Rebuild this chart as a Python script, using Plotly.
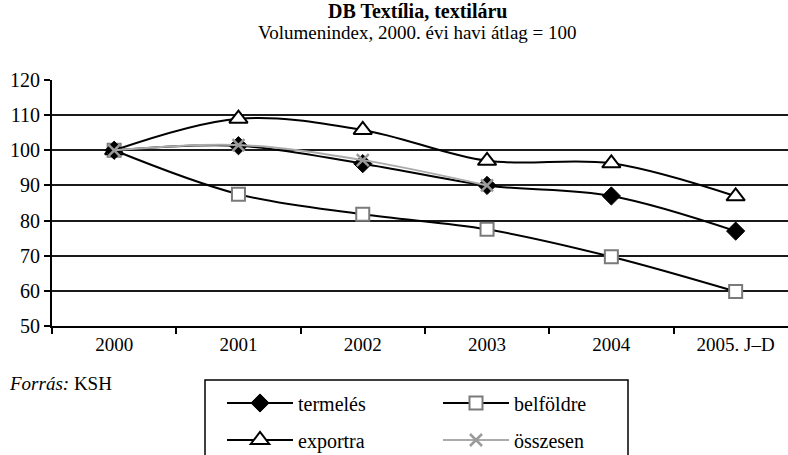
import plotly.graph_objects as go

categories = ["2000", "2001", "2002", "2003", "2004", "2005. J–D"]
termeles = [100, 101.3, 96.2, 90, 87, 77]
belfoldre = [100, 87.5, 81.8, 77.5, 69.7, 59.8]
exportra = [100, 109, 105.8, 97, 96.3, 86.9]
osszesen = [100, 101.5, 97.2, 90]
y_ticks = [50, 60, 70, 80, 90, 100, 110, 120]

W, H = 788, 455
PL, PT, PR, PB = 52, 80, 788, 326   # plot area in screen pixels
L, T, R, B = PL, PT, W - PR, H - PB
pw = PR - PL
ph = PB - PT

def px_x(p):
    return (p - PL) / pw

def px_y(p):
    return (PB - p) / ph

def cx(p):
    return p / W

def cy(p):
    return (H - p) / H

FONT = "Liberation Serif, Times New Roman, Tinos, serif"

fig = go.Figure()

fig.add_trace(go.Scatter(
    x=categories, y=belfoldre, name="belföldre", mode="lines+markers",
    line=dict(color="black", width=2, shape="spline"),
    marker=dict(symbol="square", size=13, color="white", line=dict(color="#7a7a7a", width=2)),
    legend="legend", legendrank=2))
fig.add_trace(go.Scatter(
    x=categories, y=exportra, name="exportra", mode="lines+markers",
    line=dict(color="black", width=2, shape="spline"),
    marker=dict(symbol="triangle-up", size=16, color="white", line=dict(color="black", width=2)),
    legend="legend2", legendrank=1))
fig.add_trace(go.Scatter(
    x=categories, y=termeles, name="termelés", mode="lines+markers",
    line=dict(color="black", width=2, shape="spline"),
    marker=dict(symbol="diamond", size=14, color="black", line=dict(color="black", width=1)),
    legend="legend", legendrank=1))
fig.add_trace(go.Scatter(
    x=categories[:len(osszesen)], y=osszesen, name="összesen", mode="lines+markers",
    line=dict(color="#ababab", width=2, shape="spline"),
    marker=dict(symbol="x-thin", size=12, color="#9a9a9a", line=dict(color="#9a9a9a", width=2.5)),
    legend="legend2", legendrank=2))

legend_common = dict(
    orientation="h", xanchor="left", yanchor="middle",
    xref="container", yref="container",
    font=dict(family=FONT, size=20, color="black"),
    bgcolor="rgba(0,0,0,0)", borderwidth=0,
    entrywidth=135, itemwidth=66, tracegroupgap=0,
)

fig.update_layout(
    width=W, height=H,
    margin=dict(l=L, r=R, t=T, b=B, autoexpand=False),
    paper_bgcolor="white", plot_bgcolor="white",
    font=dict(family=FONT, size=16, color="black"),
    showlegend=True,
    legend=dict(x=cx(222), y=cy(403), **legend_common),
    legend2=dict(x=cx(222), y=cy(440), **legend_common),
    xaxis=dict(
        type="category", categoryorder="array", categoryarray=categories,
        range=[-0.5, -0.5 + pw / 124.3],
        tickson="boundaries", ticks="outside", ticklen=6, tickwidth=1.5, tickcolor="black",
        showline=True, linecolor="black", linewidth=2,
        showgrid=False, tickfont=dict(family=FONT, size=19, color="black"),
        fixedrange=True,
    ),
    yaxis=dict(
        range=[50, 120], tickvals=y_ticks, ticks="outside", ticklen=6, tickwidth=1.5,
        tickcolor="black", showline=True, linecolor="black", linewidth=2,
        showgrid=True, gridcolor="#1a1a1a", gridwidth=1.5, zeroline=False,
        tickfont=dict(family=FONT, size=20, color="black"),
        fixedrange=True,
    ),
    shapes=[dict(
        type="rect", xref="paper", yref="paper",
        x0=px_x(205), x1=px_x(628), y0=px_y(380), y1=px_y(470),
        line=dict(color="black", width=1.5), fillcolor="rgba(0,0,0,0)", layer="above",
    )],
    annotations=[
        dict(text="<b>DB Textília, textiláru</b>", xref="paper", yref="paper",
             x=px_x(417), y=px_y(11), xanchor="center", yanchor="middle", showarrow=False,
             font=dict(family=FONT, size=20, color="black")),
        dict(text="Volumenindex, 2000. évi havi átlag = 100", xref="paper", yref="paper",
             x=px_x(417), y=px_y(33), xanchor="center", yanchor="middle", showarrow=False,
             font=dict(family=FONT, size=19, color="black")),
        dict(text="<i>Forrás:</i> KSH", xref="paper", yref="paper",
             x=px_x(7), y=px_y(383), xanchor="left", yanchor="middle", showarrow=False,
             font=dict(family=FONT, size=19, color="black")),
    ],
)

fig.write_html(
    "out.html",
    config={"displayModeBar": False},
    post_script="document.body.style.margin='0';document.body.style.padding='0';",
)
